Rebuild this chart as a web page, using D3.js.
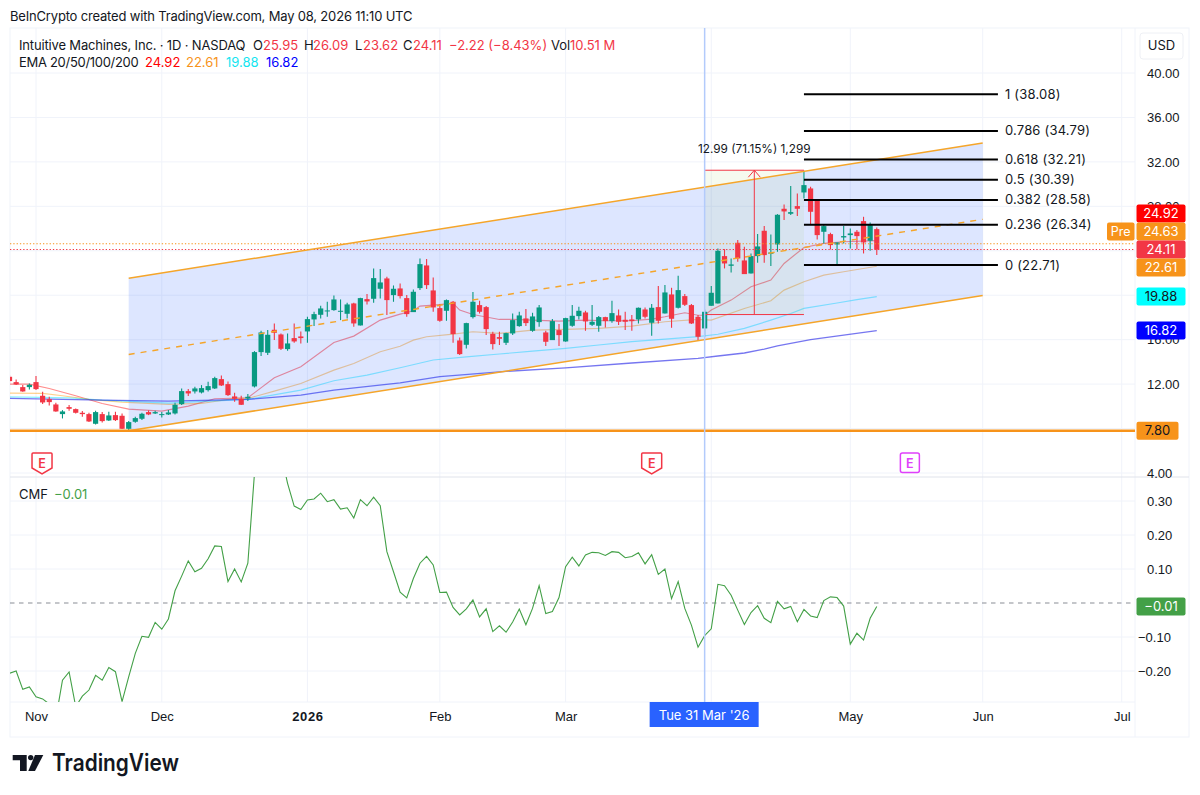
<!DOCTYPE html>
<html><head><meta charset="utf-8">
<script src="https://cdnjs.cloudflare.com/ajax/libs/d3/7.8.5/d3.min.js"></script>
<style>
html,body{margin:0;padding:0;background:#fff}
svg{display:block;font-family:Inter,"Liberation Sans",sans-serif;font-size:13px;fill:#131722}
</style></head><body><svg id="c" width="1200" height="795"></svg>
<script>
// ---- data (bar 0 = 3 Nov 2025, first bar drawn = index -4)
const firstBar = -4;
const open = [12.66,12.18,11.73,11.73,12.18,10.95,10.65,10.17,9.30,9.93,
9.75,9.42,9.30,8.43,9.30,8.73,9.21,9.15,7.98,8.61,
8.88,9.48,9.36,9.21,9.27,9.36,10.20,11.37,11.34,11.25,
11.46,11.61,12.45,12.00,10.89,10.68,10.71,11.79,14.88,14.82,
16.89,16.47,15.15,16.14,16.29,16.74,17.82,18.24,18.54,18.66,
18.51,18.33,19.26,17.28,19.65,19.68,20.58,21.51,20.01,20.61,
19.74,18.48,20.64,22.68,20.43,18.84,18.60,19.41,15.93,15.54,
18.03,19.11,18.93,16.53,16.23,15.72,16.56,17.22,17.91,16.80,
17.58,16.65,15.96,16.86,15.84,17.25,18.12,18.45,17.34,17.25,
18.03,17.67,18.18,17.79,17.82,17.82,18.72,17.52,18.93,18.36,
20.07,18.87,19.92,19.11,18.06,17.01,19.05,19.26,23.52,22.65,
24.72,23.13,21.96,23.52,25.80,23.73,24.57,27.78,27.33,28.02,
29.25,29.61,28.65,25.71,25.50,24.57,25.20,25.41,25.71,26.67,
24.90,25.95];
const high = [12.81,12.42,11.91,12.06,12.72,11.31,10.86,10.32,9.66,10.11,
9.81,9.57,9.42,9.60,9.48,9.51,9.51,9.36,8.67,9.06,
9.42,9.63,9.60,9.48,9.66,10.32,11.61,11.55,11.76,11.91,
12.21,12.66,12.78,12.24,11.22,10.95,11.10,14.97,16.80,16.86,
17.46,16.56,16.56,17.46,16.74,18.06,18.51,19.05,19.41,19.98,
19.62,19.32,19.32,19.77,20.10,22.41,22.35,21.66,20.88,21.06,
20.01,20.52,23.31,23.25,21.60,19.20,19.62,19.47,16.20,17.52,
20.28,19.50,19.02,16.71,16.71,16.62,18.36,18.51,18.75,18.42,
19.11,16.80,17.85,17.40,17.97,19.11,18.96,18.60,19.11,18.12,
18.06,19.50,18.72,18.51,18.21,18.90,18.90,19.20,20.82,20.91,
20.67,21.75,20.10,19.20,18.21,18.72,20.82,24.21,24.15,23.31,
24.96,24.36,23.76,25.50,26.22,25.47,27.30,28.17,29.82,29.16,
31.20,29.76,28.65,26.31,25.62,24.75,26.22,26.01,25.86,27.06,
26.55,26.09];
const low = [12.12,11.91,11.31,11.52,11.46,10.20,10.08,9.51,8.91,9.60,
9.36,9.06,8.58,8.37,8.55,8.67,8.67,7.95,7.80,8.52,
8.76,9.21,9.30,8.99,9.21,9.27,10.11,10.92,11.16,11.16,
11.34,11.55,11.82,10.92,10.41,10.11,10.47,11.70,14.52,14.61,
15.96,15.06,15.00,15.72,15.66,15.72,17.22,17.91,18.06,18.60,
17.76,17.91,17.16,17.28,19.17,19.32,19.71,18.21,19.41,19.71,
18.06,18.48,20.46,20.55,18.51,17.61,17.70,15.72,14.61,15.21,
17.91,18.36,16.41,15.12,15.51,15.51,16.41,17.16,17.22,16.71,
17.16,15.42,15.96,15.42,15.81,17.16,17.82,16.80,17.22,16.71,
17.10,17.52,17.31,16.86,16.80,17.46,17.91,16.35,17.46,18.36,
17.07,18.81,19.02,17.40,15.90,16.26,19.05,19.26,22.41,22.05,
23.01,21.90,21.96,22.92,22.92,22.62,23.91,26.76,27.21,27.12,
28.71,26.40,25.02,24.66,24.12,22.80,24.66,24.21,24.12,23.76,
24.00,23.62];
const close = [12.27,11.97,11.34,11.94,11.55,10.35,10.38,9.54,9.54,9.78,
9.42,9.30,8.64,9.48,8.67,9.18,8.76,7.98,8.58,8.94,
9.33,9.27,9.48,9.30,9.45,10.14,11.37,11.16,11.61,11.64,
11.82,12.54,11.88,11.01,10.68,10.14,10.86,14.88,16.65,16.44,
16.62,15.18,15.66,15.84,16.14,17.85,18.30,18.81,18.63,19.62,
18.60,19.17,17.46,19.74,19.44,21.54,21.15,19.56,20.58,19.92,
18.30,20.31,22.80,20.91,18.90,17.70,19.56,16.50,14.70,17.49,
19.41,18.51,16.95,15.60,16.08,16.59,17.76,18.18,17.49,18.09,
18.90,15.81,17.67,16.41,17.94,18.15,18.60,17.64,17.61,18.03,
17.67,18.39,17.61,17.61,17.67,18.87,18.06,18.87,17.70,20.25,
17.88,20.46,19.14,17.46,16.26,18.51,20.22,24.00,22.86,22.77,
23.31,21.90,23.52,24.39,23.61,23.85,27.24,27.54,27.48,27.78,
29.91,27.51,25.41,26.22,24.51,24.75,25.32,25.56,25.32,24.75,
26.31,24.11];
const cmf = [-0.207,-0.200,-0.254,-0.247,-0.276,-0.282,-0.297,-0.340,-0.227,-0.203,
-0.305,-0.274,-0.256,-0.213,-0.227,-0.190,-0.202,-0.290,-0.217,-0.148,
-0.098,-0.101,-0.057,-0.077,-0.047,0.036,0.079,0.124,0.092,0.102,
0.130,0.168,0.166,0.063,0.100,0.062,0.117,0.381,0.460,0.500,
0.500,0.440,0.352,0.285,0.275,0.303,0.306,0.323,0.298,0.304,
0.276,0.280,0.250,0.304,0.286,0.311,0.286,0.151,0.092,0.032,
0.015,0.072,0.117,0.137,0.112,0.031,0.032,-0.013,-0.035,-0.017,
0.009,-0.041,-0.017,-0.084,-0.067,-0.086,-0.056,-0.018,-0.064,-0.016,
0.051,-0.031,-0.025,0.016,0.107,0.135,0.109,0.141,0.149,0.148,
0.140,0.151,0.149,0.133,0.137,0.148,0.115,0.142,0.084,0.100,
0.013,0.063,-0.016,-0.065,-0.130,-0.096,-0.076,0.055,0.051,0.023,
-0.021,-0.063,-0.028,-0.008,-0.045,-0.058,0.005,-0.017,-0.010,-0.055,
-0.019,-0.038,-0.043,0.007,0.018,0.016,-0.009,-0.121,-0.089,-0.109,
-0.045,-0.010];

const ema20Bars = [-4,-1,2,6,10,14,19,23,27,32,36,40,45,48,52,55,57,58,60,63,64,66,70,72,75,79,83,86,90,93,95,98,100,101,102,105,108,111,113,116,119,122,127];
const ema20Vals = [12.0,12.0,11.61,10.95,10.26,9.75,9.57,10.02,10.68,10.77,12.57,13.56,15.75,16.32,17.76,18.3,18.6,19.02,19.11,19.26,18.66,18.27,17.82,17.82,17.76,17.67,17.76,17.7,17.7,17.85,18.06,18.42,18.2,18.2,18.66,19.56,20.76,21.36,22.86,24.3,24.66,24.81,24.92];
const ema50Bars = [-4,1,4,8,13,20,25,30,32,36,40,45,48,52,55,57,59,63,66,70,75,80,85,90,95,100,102,107,111,113,116,119,122,127];
const ema50Vals = [11.19,11.16,10.95,10.62,10.38,10.17,10.26,10.71,10.71,11.37,12.06,13.26,13.86,14.91,15.4,15.96,16.26,16.5,16.71,16.56,16.86,16.92,17.01,17.22,17.61,17.82,17.76,18.81,19.5,20.46,21.21,21.81,22.11,22.61];
const ema100Bars = [-4,5,10,20,32,40,45,50,55,60,65,70,75,80,85,90,95,100,103,107,111,114,116,121,124,127];
const ema100Vals = [10.86,10.77,10.56,10.29,10.62,11.46,12.3,12.81,13.47,14.17,14.45,14.71,14.97,15.22,15.52,15.82,16.05,16.27,16.49,17.01,17.76,18.36,18.81,19.3,19.6,19.88];
const ema200Bars = [-4,10,20,32,40,45,55,61,70,80,90,100,103,107,110,112,117,127];
const ema200Vals = [10.71,10.56,10.47,10.62,11.01,11.46,12.12,12.67,13.11,13.47,13.9,14.32,14.53,14.8,15.15,15.45,16.0,16.82];

const channelBars = [14,143];
const channelUpper = [21.53,33.69];
const channelMiddle = [14.67,26.83];
const channelLower = [7.80,19.97];

const fibLevels = ['1','0.786','0.618','0.5','0.382','0.236','0'];
const fibValues = [38.08,34.79,32.21,30.39,28.58,26.34,22.71];
const fibBars = [116,145.3];

const measureBars = [101,116];
const measurePrices = [18.26,31.25];
const measureText = '12.99 (71.15%) 1,299';

const gridPrices = [40,36,32,28,24,20,16,12,8,4];
const priceTicks = [40,36,32,28,16,12,4];
const cmfTicks = [0.3,0.2,0.1,-0.1,-0.2];
const gridBars = [0,19,41,61,80,102,123,143,164];
const monthBars = [0,19,41,61,80,123,143,164];
const monthLabels = ['Nov','Dec','2026','Feb','Mar','May','Jun','Jul'];
const crosshairBar = 101;
const crosshairLabel = "Tue 31 Mar '26";
const earningsBars = [1,93,132];
const supportLevel = 7.80;
const preValue = 24.63;
const lastClose = 24.11;
const lastCmf = -0.01;
const emaNames = ['24.92','22.61','19.88','16.82'];
const emaColors = ['#ff0000','#f7931a','#00ffff','#0000ff'];

// ---- layout & scales
const L=10, R=1135, T=28, DIV=477, B=702, BOT=737, OUTER=1189;
const x = d3.scaleLinear().domain([0,143]).range([36,982.7]);
const y = d3.scaleLinear().domain([40,4]).range([73,473]);
const yc = d3.scaleLinear().domain([0.3,-0.2]).range([501,671]);
const fmtMinus = s => s.replace('-','\u2212');
const svg = d3.select('#c');
const defs = svg.append('defs');
defs.append('clipPath').attr('id','cp').append('rect').attr('x',L).attr('y',T).attr('width',R-L).attr('height',DIV-T);
defs.append('clipPath').attr('id','cc').append('rect').attr('x',L).attr('y',DIV).attr('width',R-L).attr('height',B-DIV);

// header
svg.append('text').attr('x',10).attr('y',21).attr('font-size',13).attr('letter-spacing',-0.18).text('BeInCrypto created with TradingView.com, May 08, 2026 11:10 UTC');

// frame & grid
const grid = svg.append('g').attr('stroke','#f0f3fa').attr('fill','none');
grid.append('rect').attr('x',L).attr('y',T).attr('width',OUTER-L).attr('height',BOT-T);
grid.selectAll('.v').data(gridBars).join('line').attr('x1',d=>x(d)).attr('x2',d=>x(d)).attr('y1',T).attr('y2',B);
grid.selectAll('.h').data(gridPrices).join('line').attr('x1',L).attr('x2',R).attr('y1',d=>y(d)).attr('y2',d=>y(d));
grid.selectAll('.hc').data(cmfTicks).join('line').attr('x1',L).attr('x2',R).attr('y1',d=>yc(d)).attr('y2',d=>yc(d));
grid.append('line').attr('x1',R).attr('x2',R).attr('y1',T).attr('y2',BOT);
grid.append('line').attr('x1',L).attr('x2',R).attr('y1',B).attr('y2',B);
svg.append('line').attr('x1',L).attr('x2',OUTER).attr('y1',DIV).attr('y2',DIV).attr('stroke','#e0e3eb');

const plot = svg.append('g').attr('clip-path','url(#cp)');
// EMAs
const ln = d3.line().x(d=>x(d[0])).y(d=>y(d[1]));
[[ema20Bars,ema20Vals,'#ff0000',.45,1.15],[ema50Bars,ema50Vals,'#ff9800',.45,1.15],[ema100Bars,ema100Vals,'#00e5ff',.45,1.2],[ema200Bars,ema200Vals,'#1a1ae6',.6,1.3]].forEach(([b,v,c,o,w])=>{
  plot.append('path').attr('d',ln(b.map((d,i)=>[d,v[i]]))).attr('fill','none').attr('stroke',c).attr('stroke-opacity',o).attr('stroke-width',w);
});

// channel fill and measure fill sit under the candles
const chan = channelBars.map((b,i)=>({b,u:channelUpper[i],m:channelMiddle[i],l:channelLower[i]}));
plot.append('path').attr('d',d3.area().x(d=>x(d.b)).y0(d=>y(d.l)).y1(d=>y(d.u))(chan)).attr('fill','#2962ff').attr('fill-opacity',.155);
const [mx0,mx1]=measureBars.map(x), [my0,my1]=measurePrices.map(y), mxc=(mx0+mx1)/2;
plot.append('rect').attr('x',mx0).attr('y',my1).attr('width',mx1-mx0).attr('height',my0-my1).attr('fill','#a0c850').attr('fill-opacity',.09);

// candles
const bars = d3.range(open.length).map(i=>({i:i+firstBar,o:open[i],h:high[i],l:low[i],c:close[i]}));
const col = d=>d.c>=d.o?'#089981':'#f23645';
const cg = plot.append('g');
cg.selectAll('line').data(bars).join('line').attr('x1',d=>x(d.i)).attr('x2',d=>x(d.i)).attr('y1',d=>y(d.h)).attr('y2',d=>y(d.l)).attr('stroke',col).attr('stroke-width',1.1);
cg.selectAll('rect').data(bars).join('rect').attr('x',d=>x(d.i)-2.6).attr('width',5.2)
  .attr('y',d=>y(Math.max(d.o,d.c))).attr('height',d=>Math.max(1,Math.abs(y(d.o)-y(d.c)))).attr('fill',col);

// dotted price lines
plot.append('line').attr('x1',L).attr('x2',R).attr('y1',y(preValue)).attr('y2',y(preValue)).attr('stroke','#f7931a').attr('stroke-width',1.1).attr('stroke-dasharray','1.3 2');
plot.append('line').attr('x1',L).attr('x2',R).attr('y1',y(lastClose)).attr('y2',y(lastClose)).attr('stroke','#f23645').attr('stroke-width',1.1).attr('stroke-dasharray','1.3 2');

// channel lines
const chanLine = k=>d3.line().x(d=>x(d.b)).y(d=>y(d[k]))(chan);
plot.append('path').attr('d',chanLine('u')).attr('stroke','#f5a52a').attr('stroke-width',1.5).attr('fill','none');
plot.append('path').attr('d',chanLine('l')).attr('stroke','#f5a52a').attr('stroke-width',1.5).attr('fill','none');
plot.append('path').attr('d',chanLine('m')).attr('stroke','#f5a52a').attr('stroke-width',1.4).attr('stroke-dasharray','6 6').attr('fill','none');

// support line
plot.append('line').attr('x1',L).attr('x2',R).attr('y1',y(supportLevel)).attr('y2',y(supportLevel)).attr('stroke','#f7931a').attr('stroke-width',2.4);

// measure
const mg = plot.append('g').attr('stroke','#f23645').attr('fill','none');
mg.append('line').attr('x1',mx0).attr('x2',mx1).attr('y1',my0).attr('y2',my0);
mg.append('line').attr('x1',mx0).attr('x2',mx1).attr('y1',my1).attr('y2',my1);
mg.append('line').attr('x1',mxc).attr('x2',mxc).attr('y1',my0).attr('y2',my1);
mg.append('path').attr('d',d3.line()([[mxc-6,my1+7],[mxc,my1],[mxc+6,my1+7]]));

// fib
const fg = svg.append('g');
fg.selectAll('line').data(fibValues).join('line').attr('x1',x(fibBars[0])).attr('x2',x(fibBars[1])).attr('y1',d=>y(d)).attr('y2',d=>y(d)).attr('stroke','#000').attr('stroke-width',2);
fg.selectAll('text').data(fibValues).join('text').attr('x',x(fibBars[1])+7).attr('y',d=>y(d)+4.5).attr('font-size',13).attr('letter-spacing',0.2)
  .text((d,i)=>`${fibLevels[i]} (${d.toFixed(2)})`);

// CMF pane
const cp = svg.append('g').attr('clip-path','url(#cc)');
cp.append('line').attr('x1',L).attr('x2',R).attr('y1',yc(0)).attr('y2',yc(0)).attr('stroke','#8a8d96').attr('stroke-width',1.2).attr('stroke-dasharray','4.5 4.5');
cp.append('path').attr('d',d3.line().x((d,i)=>x(i+firstBar)).y(d=>yc(d))(cmf)).attr('fill','none').attr('stroke','#43a047').attr('stroke-width',1.1);

// crosshair
svg.append('line').attr('x1',x(crosshairBar)).attr('x2',x(crosshairBar)).attr('y1',T).attr('y2',B).attr('stroke','#b3cbfb').attr('stroke-width',1.5);
svg.append('text').attr('x',mxc).attr('y',my1-17.5).attr('text-anchor','middle').attr('font-size',11.8).text(measureText);

// axes
const ax = svg.append('g').attr('transform',`translate(${R},0)`).call(d3.axisRight(y).tickValues(priceTicks).tickFormat(d3.format('.2f')).tickSize(0).tickPadding(12));
const axc = svg.append('g').attr('transform',`translate(${R},0)`).call(d3.axisRight(yc).tickValues(cmfTicks).tickFormat(d=>fmtMinus(d3.format('.2f')(d))).tickSize(0).tickPadding(12));
axc.selectAll('text').filter(d=>d<0).attr('dx',-9);
const axb = svg.append('g').attr('transform',`translate(0,${B})`).call(d3.axisBottom(x).tickValues(monthBars).tickFormat((d,i)=>monthLabels[i]).tickSize(0).tickPadding(10));
[ax,axc,axb].forEach(g=>{g.select('.domain').remove();g.selectAll('text').attr('font-family','inherit').attr('font-size',13).attr('fill','#131722');});
axb.selectAll('text').filter(d=>d===41).attr('font-weight',700).attr('letter-spacing',0.6);

// crosshair label
const cx=x(crosshairBar);
svg.append('rect').attr('x',cx-55).attr('y',B).attr('width',109).attr('height',25).attr('fill','#2962ff');
svg.append('text').attr('x',cx-0.5).attr('y',B+17.5).attr('text-anchor','middle').attr('fill','#fff').attr('font-size',13).text(crosshairLabel);

// USD box
svg.append('rect').attr('x',1140).attr('y',33).attr('width',43).attr('height',26).attr('rx',3).attr('fill','#fff').attr('stroke','#eef0f5');
svg.append('text').attr('x',1161.5).attr('y',50).attr('text-anchor','middle').attr('font-size',13).text('USD');

// price labels (stacked around the last close so they never overlap)
const H=18;
const stack = [
 {v:24.92,t:emaNames[0],f:emaColors[0],c:'#fff',w:49},
 {v:preValue,t:'24.63',f:'#f7931a',c:'#fff',w:49,pre:1},
 {v:lastClose,t:'24.11',f:'#f23645',c:'#fff',w:49},
 {v:22.61,t:emaNames[1],f:emaColors[1],c:'#fff',w:49},
 {v:19.88,t:emaNames[2],f:emaColors[2],c:'#131722',w:49},
 {v:16.82,t:emaNames[3],f:emaColors[3],c:'#fff',w:49},
];
const anchor = stack.findIndex(d=>d.v===lastClose);
stack.forEach(d=>d.cy=y(d.v));
for(let i=anchor-1;i>=0;i--) stack[i].cy=Math.min(stack[i].cy,stack[i+1].cy-H);
for(let i=anchor+1;i<stack.length;i++) stack[i].cy=Math.max(stack[i].cy,stack[i-1].cy+H);
stack.push({v:supportLevel,t:supportLevel.toFixed(2),f:'#f7931a',c:'#131722',w:42,cy:y(supportLevel)});
const lb = svg.append('g').selectAll('g').data(stack).join('g').attr('transform',d=>`translate(1136.5,${d.cy})`);
lb.append('rect').attr('y',-H/2).attr('height',H).attr('width',d=>d.w).attr('rx',2).attr('fill',d=>d.f);
lb.append('text').attr('x',d=>d.w/2).attr('y',4.6).attr('text-anchor','middle').attr('font-size',13).attr('fill',d=>d.c).text(d=>d.t);
const pre = stack.find(d=>d.pre);
svg.append('rect').attr('x',1107).attr('y',pre.cy-9).attr('width',27.5).attr('height',18).attr('rx',2).attr('fill','#f7931a');
svg.append('text').attr('x',1120.7).attr('y',pre.cy+4.6).attr('text-anchor','middle').attr('font-size',12.5).attr('fill','#fff').text('Pre');
svg.append('g').attr('transform',`translate(1136.5,${yc(lastCmf)})`).call(g=>{
  g.append('rect').attr('y',-9).attr('height',18).attr('width',49).attr('rx',2).attr('fill','#43a047');
  g.append('text').attr('x',24.5).attr('y',4.6).attr('text-anchor','middle').attr('font-size',13).attr('fill','#fff').text(fmtMinus(d3.format('.2f')(lastCmf)));
});

// legend
const leg = (xx,yy,t,f,ls)=>svg.append('text').attr('x',xx).attr('y',yy).attr('font-size',13).attr('letter-spacing',ls||0).attr('fill',f||'#131722').text(t);
const RED='#f23645';
leg(19,50,'Intuitive Machines, Inc. · 1D · NASDAQ',null,-0.16);
leg(253,50,'O'); leg(263,50,'25.95',RED);
leg(304,50,'H'); leg(313,50,'26.09',RED);
leg(355,50,'L'); leg(363,50,'23.62',RED);
leg(403,50,'C'); leg(413,50,'24.11',RED);
leg(449,50,'\u22122.22 (\u22128.43%)',RED);
leg(551,50,'Vol'); leg(570,50,'10.51 M',RED);
leg(19,67,'EMA 20/50/100/200',null,-0.3);
[145,186,226,266].forEach((xx,i)=>leg(xx,67,emaNames[i],i==2?'#14e5f0':emaColors[i]));
leg(19,499,'CMF'); leg(54,499,fmtMinus(d3.format('.2f')(lastCmf)),'#43a047');

// earnings markers
const EV=[['#f23645',0],['#f23645',0],['#e040fb',1]];
earningsBars.forEach((b,i)=>{
  const g=svg.append('g').attr('transform',`translate(${x(b)+(i==0?-0.6:0)},463)`);
  const c=EV[i][0];
  if(EV[i][1]) g.append('rect').attr('x',-9.5).attr('y',-10).attr('width',19).attr('height',19.5).attr('rx',2).attr('fill','#fff').attr('stroke',c).attr('stroke-width',1.5);
  else g.append('path').attr('d','M-9,-10H9Q10,-10 10,-9V5L0,11L-10,5V-9Q-10,-10 -9,-10Z').attr('fill','#fff').attr('stroke',c).attr('stroke-width',1.5);
  g.append('text').attr('y',4.5).attr('text-anchor','middle').attr('font-size',12.5).attr('font-weight',600).attr('fill',c).text('E');
});

// TradingView logo
const logo=svg.append('g').attr('fill','#131722');
logo.append('path').attr('d','M12.7,755H26.7V771H20V760.3H12.7Z');
logo.append('circle').attr('cx',30.7).attr('cy',757.6).attr('r',2.7);
logo.append('path').attr('d','M35,755H43.3L35,771H28.3Z');
logo.append('text').attr('x',52).attr('y',771).attr('font-size',24).attr('font-weight',600).attr('fill','#131722').attr('textLength',127).attr('lengthAdjust','spacingAndGlyphs').text('TradingView');
</script></body></html>
